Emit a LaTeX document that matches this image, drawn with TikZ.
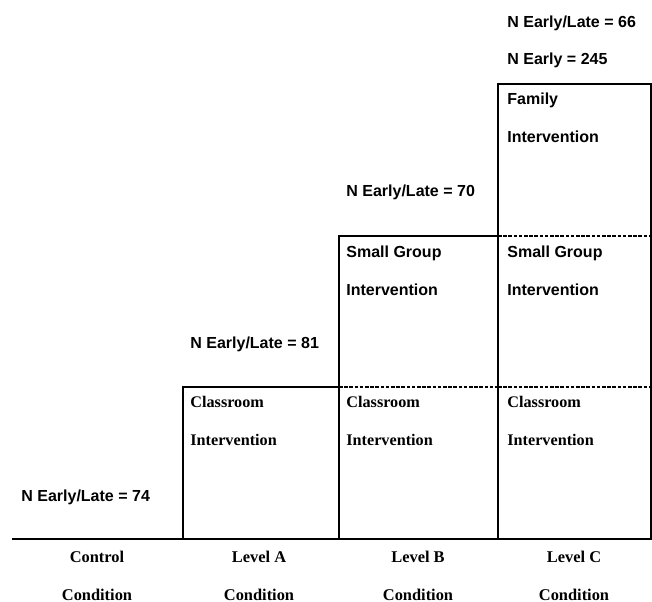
\documentclass[tikz,border=0pt]{standalone}
\usepackage{fontspec}
\setmainfont{Liberation Serif}
\setsansfont{Liberation Sans}
\begin{document}
\begin{tikzpicture}[x=0.5pt,y=-0.5pt,line join=miter,
    nlab/.style={anchor=base west,inner sep=0pt,font=\sffamily\bfseries\fontsize{8}{9}\selectfont},
    clab/.style={anchor=base west,inner sep=0pt,font=\bfseries\fontsize{8.1}{9}\selectfont},
    cond/.style={anchor=base,inner sep=0pt,font=\bfseries\fontsize{8.2}{9}\selectfont},
    box/.style={line width=0.65pt},
    split/.style={line width=1.25pt,dash pattern=on 1.8pt off 0.8pt}]
    \def\xl{12}
    \def\xa{183}
    \def\xb{339}
    \def\xc{498}
    \def\xr{651}
    \def\yg{539}
    \def\ya{387}
    \def\yb{236}
    \def\yc{84}
    \useasboundingbox (0,0) rectangle (652,601);
    \coordinate (G0) at (\xl,\yg);
    \coordinate (G1) at (652,\yg);
    \coordinate (A) at (\xa,\ya);
    \coordinate (B) at (\xb,\yb);
    \coordinate (C) at (\xc,\yc);
    \coordinate (Ba) at (\xb,\ya);
    \coordinate (Ca) at (\xc,\ya);
    \coordinate (Cb) at (\xc,\yb);
    \draw[box] (A) rectangle (\xb,\yg);
    \draw[box] (B) rectangle (\xc,\yg);
    \draw[box] (C) rectangle (\xr,\yg);
    \draw[split] (Ba)--(Ca);\draw[split] (Ca)--(\xr,\ya);\draw[split] (Cb)--(\xr,\yb);
    \draw[line width=1.3pt] (G0)--(G1);
    % sample sizes
    \node[nlab] (n74) at (21,501) {N Early/Late = 74};
    \node[nlab] (n81) at (190,348) {N Early/Late = 81};
    \node[nlab] (n70) at (346,196) {N Early/Late = 70};
    \node[nlab] (n66) at (507,27) {N Early/Late = 66};
    \node[nlab] (n245) at (507,64) {N Early = 245};
    % level A
    \node[clab] (clA) at (190,407) {Classroom};
    \node[clab] (ciA) at (190,445) {Intervention};
    % level B
    \node[nlab] (sgB) at (346,257) {Small Group};
    \node[nlab] (siB) at (346,295) {Intervention};
    \node[clab] (clB) at (346,407) {Classroom};
    \node[clab] (ciB) at (346,445) {Intervention};
    % level C
    \node[nlab] (faC) at (507,104) {Family};
    \node[nlab] (fiC) at (507,142) {Intervention};
    \node[nlab] (sgC) at (507,257) {Small Group};
    \node[nlab] (siC) at (507,295) {Intervention};
    \node[clab] (clC) at (507,407) {Classroom};
    \node[clab] (ciC) at (507,445) {Intervention};
    % conditions
    \node[cond] (ctl) at (97,562) {Control};
    \node[cond] (ctl2) at (97,600) {Condition};
    \node[cond] (lvA) at (259,562) {Level A};
    \node[cond] (lvA2) at (259,600) {Condition};
    \node[cond] (lvB) at (418,562) {Level B};
    \node[cond] (lvB2) at (418,600) {Condition};
    \node[cond] (lvC) at (574,562) {Level C};
    \node[cond] (lvC2) at (574,600) {Condition};
\end{tikzpicture}
\end{document}
